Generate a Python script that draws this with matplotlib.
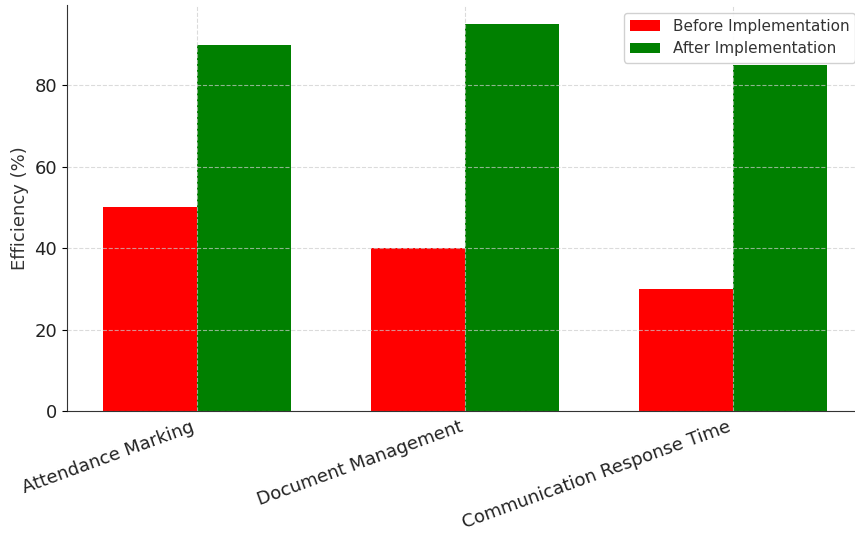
import matplotlib
matplotlib.use("Agg")
import matplotlib.pyplot as plt
import numpy as np

categories = ["Attendance Marking", "Document Management", "Communication Response Time"]
before = [50, 40, 30]
after = [90, 95, 85]

fig = plt.figure(figsize=(8.55, 5.33), dpi=100)
# axes run past the right and top edge, as in the reference crop
ax = fig.add_axes([67 / 855, 122 / 533, 796 / 855, 406 / 533])

x = np.arange(len(categories))
w = 0.35
ax.bar(x - w / 2, before, w, color="red", label="Before Implementation")
ax.bar(x + w / 2, after, w, color="green", label="After Implementation")

ax.set_ylabel("Efficiency (%)", fontsize=13, color="#333333")
ax.set_xticks(x)
ax.set_xticklabels(categories, rotation=20, ha="right", fontsize=13, color="#222222")
ax.tick_params(axis="x", length=0, pad=5)
ax.tick_params(axis="y", labelsize=13, labelcolor="#222222")
ax.set_ylim(0, 99.75)

ax.grid(True, linestyle="--", color="#cccccc", linewidth=0.8, alpha=0.7)
ax.set_axisbelow(False)
for s in ["top", "right"]:
    ax.spines[s].set_visible(False)
ax.spines["left"].set_color("#333333")
ax.spines["bottom"].set_color("#333333")

leg = ax.legend(loc="upper right", fontsize=11, framealpha=0.9)
for t in leg.get_texts():
    t.set_color("#333333")

fig.savefig("out.png", dpi=100)
